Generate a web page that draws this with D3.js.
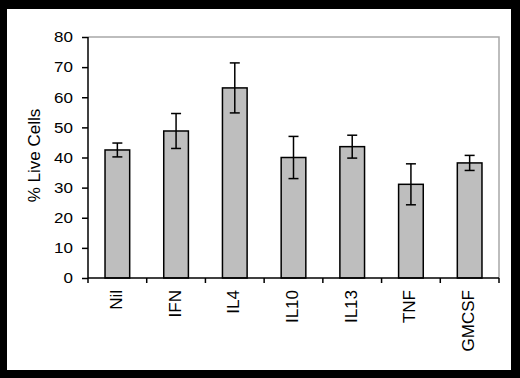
<!DOCTYPE html>
<html>
<head>
<meta charset="utf-8">
<script src="https://cdn.jsdelivr.net/npm/d3@7"></script>
<style>
 body { margin: 0; background: #000; }
 text { font-family: "Liberation Sans", Arial, sans-serif; fill: #000; }
</style>
</head>
<body>
<div id="chart"></div>
<script>
// chart data
var categories = ["Nil", "IFN", "IL4", "IL10", "IL13", "TNF", "GMCSF"];
var values = [42.5, 48.8, 63.1, 40.0, 43.6, 31.1, 38.2];
var errors = [2.3, 5.8, 8.3, 7.0, 3.8, 6.8, 2.5];
var yTicks = [0, 10, 20, 30, 40, 50, 60, 70, 80];

var svgWidth = 520;
var svgHeight = 378;
var margin = { top: 37, right: 21, bottom: 100, left: 88 };
var width = svgWidth - margin.left - margin.right;
var height = svgHeight - margin.top - margin.bottom;

var data = categories.map(function (c, i) {
 return { name: c, value: values[i], err: errors[i] };
});

var root = d3.select("#chart")
 .append("svg")
   .attr("width", svgWidth)
   .attr("height", svgHeight);

// black frame, white page
root.append("rect")
 .attr("width", svgWidth).attr("height", svgHeight)
 .attr("fill", "#000");
root.append("rect")
 .attr("x", 7).attr("y", 9)
 .attr("width", 504).attr("height", 361)
 .attr("fill", "#fff");

var svg = root.append("g")
 .attr("transform", "translate(" + margin.left + "," + margin.top + ")");

var x = d3.scaleBand()
 .domain(categories)
 .range([0, width])
 .paddingInner(0.58)
 .paddingOuter(0.29);

var y = d3.scaleLinear()
 .domain([0, 80])
 .range([height, 0]);

// grey top and right frame of the plot area
svg.append("path")
 .attr("d", "M0,0H" + width + "V" + height)
 .attr("fill", "none")
 .attr("stroke", "#a8a8a8")
 .attr("stroke-width", 1.5);

// bars
svg.append("g")
 .selectAll("rect")
 .data(data)
 .enter()
 .append("rect")
   .attr("x", function (d) { return x(d.name); })
   .attr("y", function (d) { return y(d.value); })
   .attr("width", x.bandwidth())
   .attr("height", function (d) { return height - y(d.value); })
   .attr("fill", "#bebebe")
   .attr("stroke", "#000")
   .attr("stroke-width", 1.5);

// error bars
var eb = svg.append("g")
 .attr("stroke", "#000")
 .attr("stroke-width", 1.5)
 .selectAll("g")
 .data(data)
 .enter()
 .append("g");
eb.append("line")
 .attr("x1", function (d) { return x(d.name) + x.bandwidth() / 2; })
 .attr("x2", function (d) { return x(d.name) + x.bandwidth() / 2; })
 .attr("y1", function (d) { return y(d.value + d.err); })
 .attr("y2", function (d) { return y(d.value - d.err); });
[1, -1].forEach(function (s) {
 eb.append("line")
   .attr("x1", function (d) { return x(d.name) + x.bandwidth() / 2 - 5; })
   .attr("x2", function (d) { return x(d.name) + x.bandwidth() / 2 + 5; })
   .attr("y1", function (d) { return y(d.value + s * d.err); })
   .attr("y2", function (d) { return y(d.value + s * d.err); });
});

// Y axis
var yAxis = svg.append("g")
 .call(d3.axisLeft(y).tickValues(yTicks).tickSize(6).tickPadding(9).tickFormat(d3.format("d")));
yAxis.select(".domain").attr("stroke-width", 1.5).attr("d", "M0,0V" + height);
yAxis.selectAll(".tick line").attr("stroke-width", 1.5);
yAxis.selectAll("text")
 .style("font-size", "17px")
 .attr("transform", "scale(1,0.88)");

// X axis: ticks sit between the categories
var xAxis = svg.append("g")
 .attr("transform", "translate(0," + height + ")");
xAxis.append("line")
 .attr("x1", 0).attr("x2", width)
 .attr("stroke", "#000").attr("stroke-width", 1.5);
xAxis.selectAll(".sep")
 .data(d3.range(categories.length + 1))
 .enter()
 .append("line")
   .attr("x1", function (i) { return i * x.step(); })
   .attr("x2", function (i) { return i * x.step(); })
   .attr("y1", 0).attr("y2", 5)
   .attr("stroke", "#000").attr("stroke-width", 1.5);
xAxis.selectAll(".lbl")
 .data(categories)
 .enter()
 .append("text")
   .attr("transform", function (d) {
     return "translate(" + (x(d) + x.bandwidth() / 2 - 1.5) + ",12) rotate(-90)";
   })
   .attr("text-anchor", "end")
   .attr("dy", "0.35em")
   .style("font-size", "17px")
   .text(function (d) { return d; });

// Y label
svg.append("text")
 .attr("transform", "translate(-48," + (height / 2 - 2) + ") rotate(-90)")
 .attr("text-anchor", "middle")
 .style("font-size", "17px")
 .text("% Live Cells");
</script>
</body>
</html>
